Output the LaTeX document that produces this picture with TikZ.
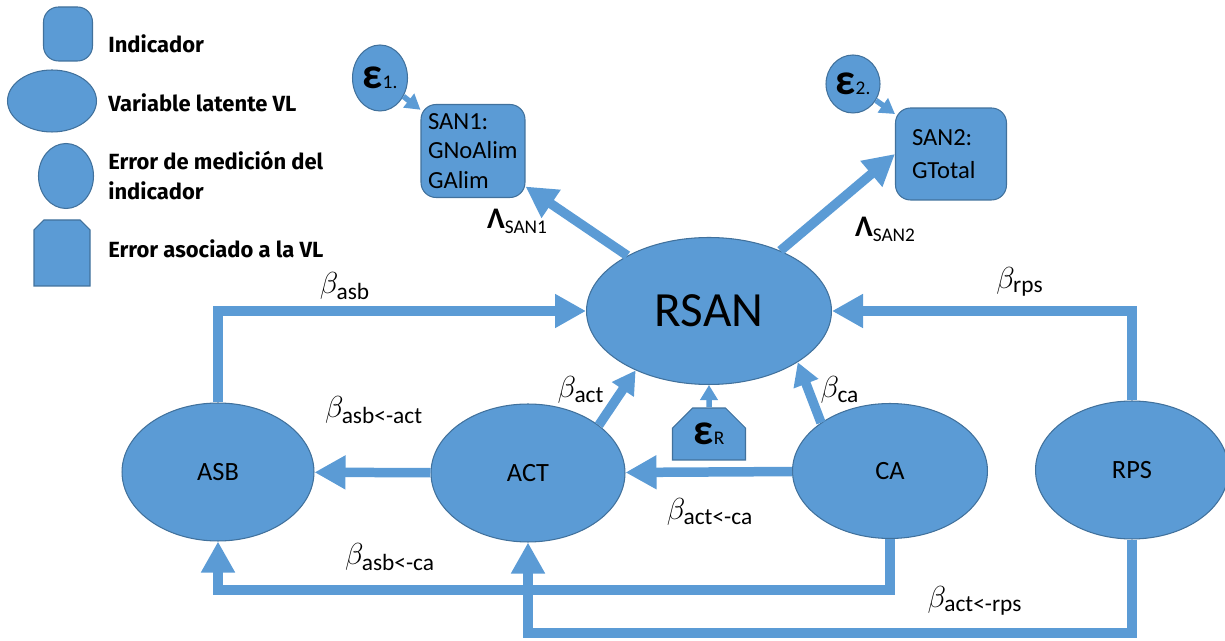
\documentclass[tikz,border=0pt]{standalone}
\usepackage{amsmath}
\usepackage{fontspec}
\setmainfont{Carlito}
\newfontfamily\legfont{Fira Sans}
\usetikzlibrary{arrows.meta,shapes.geometric,shapes.misc}

\definecolor{semblue}{HTML}{5B9BD5}
\definecolor{semedge}{HTML}{41719C}

% label macros
\newcommand{\bet}[1]{{\fontsize{19}{19}\selectfont$\beta_{\text{#1}}$}}
\newcommand{\lam}[1]{{\fontsize{17}{17}\selectfont\bfseries Λ}{\fontsize{11}{11}\selectfont\raisebox{-0.55ex}{#1}}}
\newcommand{\eps}[1]{{\fontsize{25}{25}\selectfont\bfseries ε}{\fontsize{11}{11}\selectfont #1}}

\tikzset{
  lat/.style={ellipse, draw=semedge, fill=semblue, line width=0.6pt, inner sep=0pt,
    font=\fontsize{15}{15}\selectfont},
  ind/.style={rectangle, rounded corners=0.3cm, draw=semedge, fill=semblue, line width=0.6pt,
    inner sep=0pt, align=left, font=\fontsize{14}{16.7}\selectfont},
  err/.style={ellipse, draw=semedge, fill=semblue, line width=0.6pt, inner sep=0pt},
  errvl/.style={chamfered rectangle, chamfered rectangle corners={north west,north east},
    chamfered rectangle xsep=0.2cm, chamfered rectangle ysep=0.2cm, draw=semedge, fill=semblue,
    line width=0.6pt, inner sep=0pt},
  leg/.style={anchor=base west, inner sep=0pt, font=\legfont\bfseries\fontsize{12.5}{17}\selectfont},
  reg/.style={draw=semblue, line width=0.19cm, -{Triangle[length=0.62cm,width=0.64cm]}},
  mid/.style={draw=semblue, line width=0.19cm, -{Triangle[length=0.46cm,width=0.5cm]}},
  erra/.style={draw=semblue, line width=0.11cm, -{Triangle[length=0.3cm,width=0.34cm]}},
  lbl/.style={inner sep=0pt}
}

\begin{document}
\begin{tikzpicture}[x=0.02cm, y=-0.02cm]
	\useasboundingbox (0,0) rectangle (1225,641);
	
	% Legend
	\node[ind, minimum width=0.98cm, minimum height=1.08cm] (ind) at (68,34) {};
	\node[err, minimum width=1.78cm, minimum height=1.24cm] (lv) at (52,101) {};
	\node[err, minimum width=1.1cm, minimum height=1.3cm] (me) at (66,176) {};
	\filldraw[fill=semblue, draw=semedge, line width=0.6pt]
	  (34,286) -- (34,230) -- (44,220) -- (80,220) -- (90,230) -- (90,286) -- cycle;
	
	\node[leg] (tind) at (108,53) {Indicador};
	\node[leg] (tlv) at (108,112) {Variable latente VL};
	\node[leg] (tme) at (108,170) {Error de medición del};
	\node[leg] (tme2) at (108,200) {indicador};
	\node[leg] (tve) at (108,258) {Error asociado a la VL};
	
	% Indicators and their errors
	\node[err, minimum width=1.1cm, minimum height=1.32cm] (eps1) at (380,78) {\eps{1.}};
	\node[ind, minimum width=2.08cm, minimum height=1.86cm, text width=1.8cm] (san1) at (473,151) {SAN1:\\GNoAlim\\GAlim};
	\node[err, minimum width=1.08cm, minimum height=1.16cm] (eps2) at (853,84) {\eps{2.}};
	\node[ind, minimum width=2.22cm, minimum height=1.84cm, text width=1.56cm,
	  font=\fontsize{14}{18.8}\selectfont] (san2) at (951,154) {SAN2:\\GTotal};
	
	% Latent variables
	\node[lat, minimum width=4.9cm, minimum height=2.94cm, font=\fontsize{28}{28}\selectfont] (rsan) at (709,311) {RSAN};
	\node[lat, minimum width=3.84cm, minimum height=2.76cm] (asb) at (218,472) {ASB};
	\node[lat, minimum width=3.88cm, minimum height=2.76cm] (act) at (528,473) {ACT};
	\node[lat, minimum width=3.9cm, minimum height=2.7cm] (ca) at (890,471) {CA};
	\node[lat, minimum width=3.86cm, minimum height=2.76cm] (rps) at (1132,470) {RPS};
	\node[errvl, minimum width=1.46cm, minimum height=1.04cm] (epsR) at (709,434) {\raisebox{-7pt}{\eps{R}}};
	
	\coordinate (lowA) at (0,590);
	\coordinate (lowB) at (0,633);
	
	% Loadings
	\draw[reg] (rsan) -- (san1);
	\draw[reg] (rsan) -- (san2.west);
	\draw[erra] (eps1) -- (san1);
	\draw[erra] (eps2) -- (san2);
	
	% Paths to RSAN
	\draw[reg] (asb.north) |- (rsan.west);
	\draw[reg] (rps.north) |- (rsan.east);
	\draw[mid] (act.34) -- (rsan.219);
	\draw[mid] (ca.145) -- (rsan.330);
	\draw[erra] (epsR) -- (rsan);
	
	% Paths between exogenous
	\draw[reg] (act) -- (asb);
	\draw[reg] (ca) -- (act);
	\draw[reg] (ca.south) -- (ca.south |- lowA) -| (asb.south);
	\draw[reg] (rps.south) -- (rps.south |- lowB) -| (act.south);
	
	% Coefficients
	\node[lbl] (lsan1) at (517,221) {\lam{SAN1}};
	\node[lbl] (lsan2) at (885,229) {\lam{SAN2}};
	\node[lbl] (basb) at (345,286) {\bet{asb}};
	\node[lbl] (brps) at (1020,282) {\bet{rps}};
	\node[lbl] (basbact) at (374,410) {\bet{asb<-act}};
	\node[lbl] (bact) at (581,390) {\bet{act}};
	\node[lbl] (bca) at (840,390) {\bet{ca}};
	\node[lbl] (bactca) at (710,512) {\bet{act<-ca}};
	\node[lbl] (basbca) at (390,557) {\bet{asb<-ca}};
	\node[lbl] (bactrps) at (975,601) {\bet{act<-rps}};
\end{tikzpicture}
\end{document}
